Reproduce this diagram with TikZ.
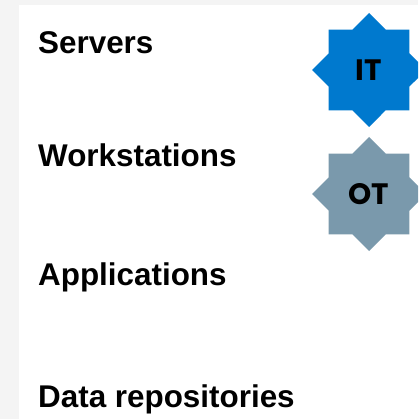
\documentclass[tikz,border=0pt]{standalone}
\usepackage{fontspec}
\setmainfont{Liberation Sans}
\newfontfamily\badgefont{Poppins}
\usetikzlibrary{shapes.geometric}
\definecolor{pagegray}{HTML}{F4F4F4}
\definecolor{itblue}{RGB}{0,121,206}
\definecolor{otgray}{RGB}{122,153,172}
\begin{document}
\begin{tikzpicture}[x=1pt,y=-1pt,
  item/.style={anchor=base west, inner sep=0pt,
    font=\fontsize{31.4}{31.4}\selectfont\bfseries},
  badge/.style={star, star points=8, star point ratio=1.307,
    minimum size=114pt, inner sep=0pt, draw=none,
    font=\badgefont\fontsize{29.5}{29.5}\selectfont\bfseries}]
  \useasboundingbox (0,0) rectangle (418,419);
  \clip (0,0) rectangle (418,419);
  % page background and white panel
  \fill[pagegray] (0,0) rectangle (418,419);
  \fill[white] (19,5) rectangle (418,419);
  % category labels
  \node[item] (servers) at (38,54) {Servers};
  \node[item] (workstations) at (38,167) {Workstations};
  \node[item] (applications) at (38,285) {Applications};
  \node[item] (data) at (38,407) {Data repositories};
  % IT / OT badges
  \node[badge, fill=itblue] (it) at (369,70) {IT};
  \node[badge, fill=otgray] (ot) at (369,194) {OT};
\end{tikzpicture}
\end{document}
